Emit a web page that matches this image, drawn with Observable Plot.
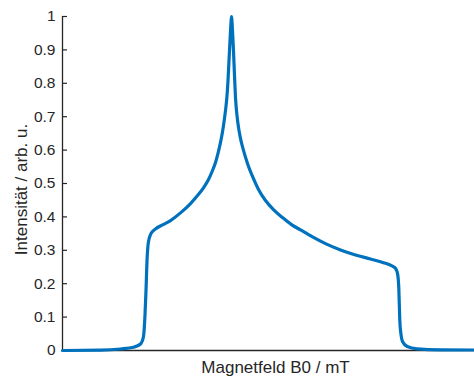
<!DOCTYPE html>
<html>
<head>
<meta charset="utf-8">
<script src="https://cdn.jsdelivr.net/npm/d3@7"></script>
<script src="https://cdn.jsdelivr.net/npm/@observablehq/plot@0.6"></script>
<style>
  html, body { margin: 0; padding: 0; background: #fff; }
  #chart svg { display: block; }
</style>
</head>
<body>
<div id="chart"></div>
<script>
// Magnetic field (arbitrary units, axis unlabelled) and intensity (arb. u.)
const field = [
  0, 9.22, 14.08, 17.23, 18.93, 19.66, 20.02, 20.27, 20.51, 20.75, 20.99, 21.36, 21.84, 22.57,
  24.27, 26.21, 28.64, 31.07, 32.77, 34.22, 35.44, 36.41, 37.14, 37.86, 38.35, 38.83, 39.32, 39.68,
  39.93, 40.17, 40.41, 40.66, 40.90, 41.02,
  41.26, 41.50, 41.75, 41.99, 42.35, 42.72, 43.20, 43.93, 44.90, 46.12, 47.57, 49.27, 51.21, 53.40,
  55.58, 57.77, 60.68, 63.83, 67.48, 71.12, 74.76, 77.91, 79.85, 80.83, 81.31, 81.63, 81.87, 82.16,
  82.52, 83.67, 86.09, 91.75, 100
];
const intensity = [
  0, 0.001, 0.0045, 0.0096, 0.0195, 0.042, 0.105, 0.180, 0.269, 0.315, 0.333, 0.347, 0.356, 0.364,
  0.376, 0.389, 0.412, 0.440, 0.464, 0.487, 0.512, 0.539, 0.563, 0.596, 0.623, 0.654, 0.695, 0.731,
  0.763, 0.808, 0.868, 0.928, 0.982, 1.0,
  0.958, 0.898, 0.823, 0.757, 0.704, 0.668, 0.635, 0.599, 0.560, 0.521, 0.482, 0.449, 0.422, 0.398,
  0.377, 0.361, 0.340, 0.320, 0.301, 0.286, 0.274, 0.263, 0.254, 0.246, 0.231, 0.186, 0.090, 0.048,
  0.027, 0.012, 0.005, 0.002, 0.0015
];
const yTicks = [0, 0.1, 0.2, 0.3, 0.4, 0.5, 0.6, 0.7, 0.8, 0.9, 1];
const xLabel = "Magnetfeld B0 / mT";
const yLabel = "Intensität / arb. u.";

const data = field.map((b, i) => ({ b, v: intensity[i] }));

const W = 474, H = 378, ML = 62, MR = 0, MT = 16, MB = 28;
const axisColor = "#262626";
const font = "'Liberation Sans', Arial, Helvetica, sans-serif";

const chart = Plot.plot({
  width: W,
  height: H,
  marginLeft: ML,
  marginRight: MR,
  marginTop: MT,
  marginBottom: MB,
  style: { fontFamily: font, fontSize: "15.5px", color: axisColor, background: "#fff" },
  x: { domain: [0, 100], axis: null },
  y: { domain: [0, 1], axis: null },
  marks: [
    Plot.axisY({ ticks: yTicks, tickSize: 0, tickPadding: 7, tickFormat: d => String(d), label: null, fontSize: 15.5, fill: axisColor }),
    Plot.tickY(yTicks, { y: d => d, stroke: axisColor, strokeWidth: 1.2, insetRight: W - ML - MR - 5 }),
    Plot.ruleX([0], { stroke: axisColor, strokeWidth: 1.3 }),
    Plot.ruleY([0], { stroke: axisColor, strokeWidth: 1.3 }),
    Plot.line(data, { x: "b", y: "v", stroke: "#0072BD", strokeWidth: 3.2, curve: "monotone-x" }),
    Plot.text([xLabel], { text: d => d, frameAnchor: "bottom", textAnchor: "middle", dx: 7, dy: 17, fontSize: 17, fill: axisColor, lineAnchor: "middle" }),
    Plot.text([yLabel], { text: d => d, frameAnchor: "left", textAnchor: "middle", dx: -41, dy: 6, rotate: -90, fontSize: 17, fill: axisColor, lineAnchor: "middle" })
  ]
});
document.getElementById("chart").appendChild(chart);
</script>
</body>
</html>
